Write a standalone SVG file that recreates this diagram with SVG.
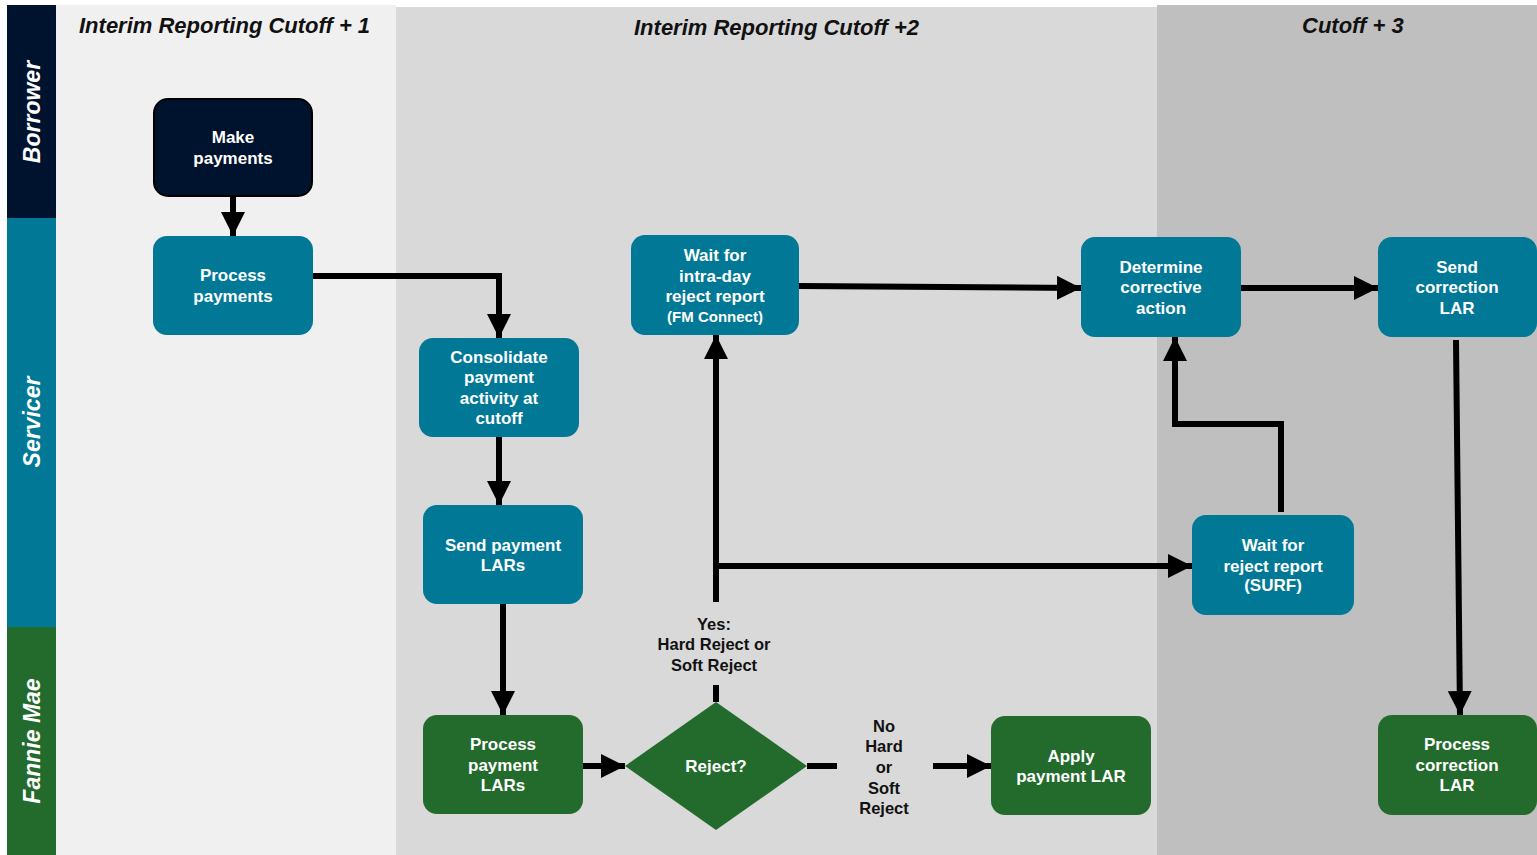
<svg xmlns="http://www.w3.org/2000/svg" width="1537" height="855" viewBox="0 0 1537 855">
<defs>
<style>
.lane{font-family:"Liberation Sans",Arial,sans-serif;font-weight:bold;font-style:italic;font-size:23px;fill:#fff}
.title{font-family:"Liberation Sans",Arial,sans-serif;font-weight:bold;font-style:italic;font-size:22px;fill:#111}
.nt{font-family:"Liberation Sans",Arial,sans-serif;font-weight:bold;font-size:17px;fill:#fff;text-anchor:middle}
.lbl{font-family:"Liberation Sans",Arial,sans-serif;font-weight:bold;font-size:16.5px;fill:#111;text-anchor:middle}
.teal{fill:#007896}
.green{fill:#236B2C}
.conn{fill:none;stroke:#000;stroke-width:6}
</style>
<marker id="ah" viewBox="0 0 10 10" refX="10" refY="5" markerWidth="4" markerHeight="4" markerUnits="strokeWidth" orient="auto">
<path d="M0,0 L10,5 L0,10 z" fill="#000"/>
</marker>
</defs>
<rect width="1537" height="855" fill="#fff"/>
<g id="columns">
<rect x="56" y="5" width="340" height="850" fill="#F0F0F0"/>
<rect x="396" y="7" width="761" height="848" fill="#D9D9D9"/>
<rect x="1157" y="5" width="380" height="850" fill="#BFBFBF"/>
<text class="title" x="79" y="33">Interim Reporting Cutoff + 1</text>
<text class="title" x="634" y="35">Interim Reporting Cutoff +2</text>
<text class="title" x="1302" y="33">Cutoff + 3</text>
</g>
<g id="lanes">
<rect x="7" y="5" width="49" height="213" fill="#00132E"/>
<rect x="7" y="218" width="49" height="409" fill="#007896"/>
<rect x="7" y="627" width="49" height="228" fill="#236B2C"/>
<text class="lane" transform="translate(40,112) rotate(-90)" text-anchor="middle">Borrower</text>
<text class="lane" transform="translate(40,422) rotate(-90)" text-anchor="middle">Servicer</text>
<text class="lane" transform="translate(40,741) rotate(-90)" text-anchor="middle">Fannie Mae</text>
</g>
<g id="connectors">
<path class="conn" d="M233,197 V236" marker-end="url(#ah)"/>
<path class="conn" d="M313,276 H499 V338" marker-end="url(#ah)"/>
<path class="conn" d="M499,437 V505" marker-end="url(#ah)"/>
<path class="conn" d="M503,604 V715" marker-end="url(#ah)"/>
<path class="conn" d="M583,766 H625" marker-end="url(#ah)"/>
<path class="conn" d="M807,766 H837"/>
<path class="conn" d="M933,766 H991" marker-end="url(#ah)"/>
<path class="conn" d="M716,702 V685"/>
<path class="conn" d="M716,602 V335" marker-end="url(#ah)"/>
<path class="conn" d="M716,566 H1192" marker-end="url(#ah)"/>
<path class="conn" d="M799,286 L1081,288" marker-end="url(#ah)"/>
<path class="conn" d="M1281,512 V424 H1175 V337" marker-end="url(#ah)"/>
<path class="conn" d="M1241,288 H1378" marker-end="url(#ah)"/>
<path class="conn" d="M1456,340 L1460,715" marker-end="url(#ah)"/>
<text class="lbl" x="714" y="630">Yes:</text>
<text class="lbl" x="714" y="650">Hard Reject or</text>
<text class="lbl" x="714" y="671">Soft Reject</text>
<text class="lbl" x="884" y="732">No</text>
<text class="lbl" x="884" y="752">Hard</text>
<text class="lbl" x="884" y="773">or</text>
<text class="lbl" x="884" y="794">Soft</text>
<text class="lbl" x="884" y="814">Reject</text>
</g>
<g id="make-payments">
<rect x="154" y="99" width="158" height="97" rx="14" fill="#00132E" stroke="#000" stroke-width="2"/>
<text class="nt" x="233" y="143">Make</text>
<text class="nt" x="233" y="164">payments</text>
</g>
<g id="process-payments">
<rect class="teal" x="153" y="236" width="160" height="99" rx="14"/>
<text class="nt" x="233" y="281">Process</text>
<text class="nt" x="233" y="302">payments</text>
</g>
<g id="consolidate">
<rect class="teal" x="419" y="338" width="160" height="99" rx="14"/>
<text class="nt" x="499" y="363">Consolidate</text>
<text class="nt" x="499" y="383">payment</text>
<text class="nt" x="499" y="404">activity at</text>
<text class="nt" x="499" y="424">cutoff</text>
</g>
<g id="send-payment-lars">
<rect class="teal" x="423" y="505" width="160" height="99" rx="14"/>
<text class="nt" x="503" y="551">Send payment</text>
<text class="nt" x="503" y="571">LARs</text>
</g>
<g id="process-payment-lars">
<rect class="green" x="423" y="715" width="160" height="99" rx="14"/>
<text class="nt" x="503" y="750">Process</text>
<text class="nt" x="503" y="771">payment</text>
<text class="nt" x="503" y="791">LARs</text>
</g>
<g id="reject">
<polygon class="green" points="716,702 807,766 716,830 625,766"/>
<text class="nt" x="716" y="772">Reject?</text>
</g>
<g id="apply-payment-lar">
<rect class="green" x="991" y="716" width="160" height="99" rx="14"/>
<text class="nt" x="1071" y="762">Apply</text>
<text class="nt" x="1071" y="782">payment LAR</text>
</g>
<g id="wait-intraday">
<rect class="teal" x="631" y="235" width="168" height="100" rx="14"/>
<text class="nt" x="715" y="261">Wait for</text>
<text class="nt" x="715" y="282">intra-day</text>
<text class="nt" x="715" y="302">reject report</text>
<text class="nt" x="715" y="322" style="font-size:15px">(FM Connect)</text>
</g>
<g id="determine">
<rect class="teal" x="1081" y="237" width="160" height="100" rx="14"/>
<text class="nt" x="1161" y="273">Determine</text>
<text class="nt" x="1161" y="293">corrective</text>
<text class="nt" x="1161" y="314">action</text>
</g>
<g id="send-correction">
<rect class="teal" x="1378" y="237" width="159" height="100" rx="14"/>
<text class="nt" x="1457" y="273">Send</text>
<text class="nt" x="1457" y="293">correction</text>
<text class="nt" x="1457" y="314">LAR</text>
</g>
<g id="wait-surf">
<rect class="teal" x="1192" y="515" width="162" height="100" rx="14"/>
<text class="nt" x="1273" y="551">Wait for</text>
<text class="nt" x="1273" y="572">reject report</text>
<text class="nt" x="1273" y="591">(SURF)</text>
</g>
<g id="process-correction">
<rect class="green" x="1378" y="715" width="159" height="100" rx="14"/>
<text class="nt" x="1457" y="750">Process</text>
<text class="nt" x="1457" y="771">correction</text>
<text class="nt" x="1457" y="791">LAR</text>
</g>
</svg>
